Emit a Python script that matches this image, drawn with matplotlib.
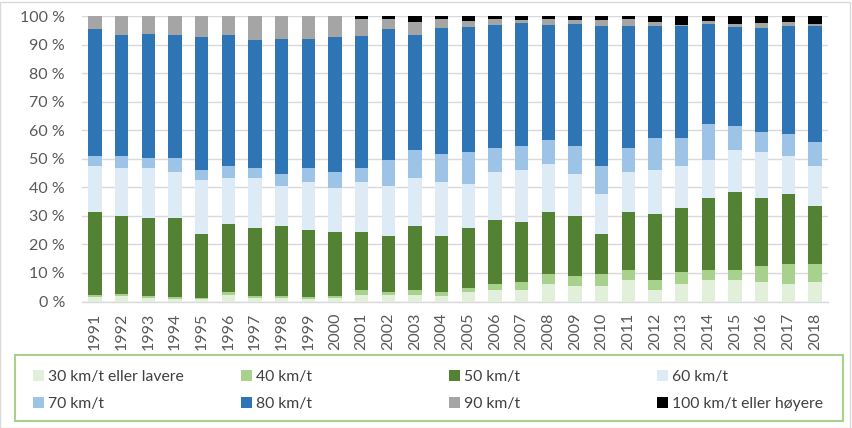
import matplotlib
matplotlib.use("Agg")
import matplotlib.pyplot as plt
import matplotlib.patches as mpatches
import numpy as np

plt.rcParams['font.family'] = ['Lato', 'DejaVu Sans']

years = [str(y) for y in range(1991, 2019)]
series_names = ["30 km/t eller lavere", "40 km/t", "50 km/t", "60 km/t",
                "70 km/t", "80 km/t", "90 km/t", "100 km/t eller høyere"]
colors = ["#E2EFDA", "#A9D18E", "#548235", "#DDEBF7",
          "#9DC3E6", "#2E75B6", "#A5A5A5", "#000000"]

# cumulative tops (percent), per year
cum_30 = [1.5, 1.8, 1.3, 1.0, 0.8, 2.4, 1.3, 1.3, 1.0, 1.3,
          2.3, 2.3, 2.3, 2.1, 3.2, 3.9, 4.2, 6.0, 5.6, 5.6,
          7.4, 4.2, 6.0, 7.4, 7.4, 6.7, 6.3, 7.0]
cum_40 = [2.3, 2.7, 2.0, 1.7, 1.4, 3.4, 2.1, 2.1, 1.7, 2.1,
          3.9, 3.4, 3.9, 3.4, 4.9, 6.0, 7.0, 9.8, 9.1, 9.5,
          10.9, 7.4, 10.2, 11.2, 11.2, 12.3, 13.0, 13.3]
cum_50 = [31.5, 29.8, 29.4, 29.4, 23.8, 27.3, 25.6, 26.6, 25.2, 24.5,
          24.2, 23.1, 26.6, 23.1, 25.6, 28.4, 28.0, 31.2, 30.1, 23.8,
          31.5, 30.5, 32.6, 36.1, 38.2, 36.4, 37.8, 33.6]
cum_60 = [47.3, 46.9, 46.9, 45.5, 42.4, 43.4, 43.1, 40.6, 41.7, 39.6,
          41.7, 40.6, 43.1, 42.0, 41.3, 45.2, 46.2, 48.0, 44.5, 37.8,
          45.2, 45.9, 47.3, 49.7, 52.9, 52.2, 50.8, 47.6]
cum_70 = [51.1, 50.8, 50.1, 50.1, 45.9, 47.3, 46.6, 44.5, 46.9, 45.4,
          46.9, 49.4, 53.2, 51.8, 52.2, 53.6, 54.6, 56.7, 54.6, 47.6,
          53.6, 57.4, 57.4, 62.3, 61.3, 59.2, 58.8, 55.7]
cum_80 = [95.5, 93.5, 93.8, 93.5, 92.8, 93.5, 91.7, 92.1, 92.1, 92.8,
          93.1, 95.6, 93.5, 95.9, 96.3, 97.0, 97.7, 97.0, 97.3, 96.6,
          96.6, 96.6, 96.6, 97.3, 96.3, 95.9, 96.6, 96.6]
cum_90 = [100.0, 100.0, 100.0, 100.0, 100.0, 100.0, 100.0, 100.0, 100.0, 100.0,
          98.9, 98.9, 98.0, 98.9, 98.2, 98.9, 98.6, 98.9, 98.6, 98.6,
          98.9, 97.9, 96.8, 98.4, 97.3, 97.7, 97.9, 97.3]
cum_100 = [100.0] * 28

cums = [cum_30, cum_40, cum_50, cum_60, cum_70, cum_80, cum_90, cum_100]

W, H = 853, 428
fig = plt.figure(figsize=(W / 100, H / 100), dpi=100)
ax = fig.add_axes([81.7 / W, 1 - 301.5 / H, (828.3 - 81.7) / W, (301.5 - 16) / H])

x = np.arange(len(years))
prev = np.zeros(len(years))
handles = []
for name, col, c in zip(series_names, colors, cums):
    c = np.array(c)
    h = ax.bar(x, c - prev, bottom=prev, width=0.49, color=col, label=name, zorder=3)
    handles.append(h)
    prev = c

ax.set_xlim(-0.5, len(years) - 0.5)
ax.set_ylim(0, 100)
ax.set_yticks(np.arange(0, 101, 10))
ax.set_yticklabels([f"{v} %" for v in range(0, 101, 10)])
ax.set_xticks(x)
ax.set_xticklabels(years, rotation=90)
ax.tick_params(axis='both', length=0, colors="#595959", labelsize=11.5)
ax.tick_params(axis='y', pad=12)
ax.tick_params(axis='x', pad=8)
ax.yaxis.grid(True, color="#D9D9D9", linewidth=1, zorder=0)
for s in ["top", "right", "left"]:
    ax.spines[s].set_visible(False)
ax.spines["bottom"].set_color("#D9D9D9")
ax.spines["bottom"].set_linewidth(1)

# legend: 4 columns x 2 rows, row-major order
col_x = [33, 241, 449, 657]
row_y = [377, 404]
for i, (h, name) in enumerate(zip(handles, series_names)):
    r, cidx = divmod(i, 4)
    lg = fig.legend([h], [name], loc="center left",
                    bbox_to_anchor=(col_x[cidx] / W, 1 - row_y[r] / H),
                    frameon=False, handlelength=0.68, handleheight=0.68,
                    handletextpad=0.3, fontsize=11.3, borderpad=0.0,
                    borderaxespad=0.0)
    for t in lg.get_texts():
        t.set_color("#404040")

fig.patches.append(mpatches.Rectangle((15 / W, 1 - 421 / H), 828 / W, 66 / H,
                                      transform=fig.transFigure, fill=False,
                                      edgecolor="#A9D18E", linewidth=1.5))
fig.patches.append(mpatches.Rectangle((0.5 / W, 0.5 / H), 850 / W, 426 / H,
                                      transform=fig.transFigure, fill=False,
                                      edgecolor="#D9D9D9", linewidth=1))

fig.savefig("out.png", dpi=100)
